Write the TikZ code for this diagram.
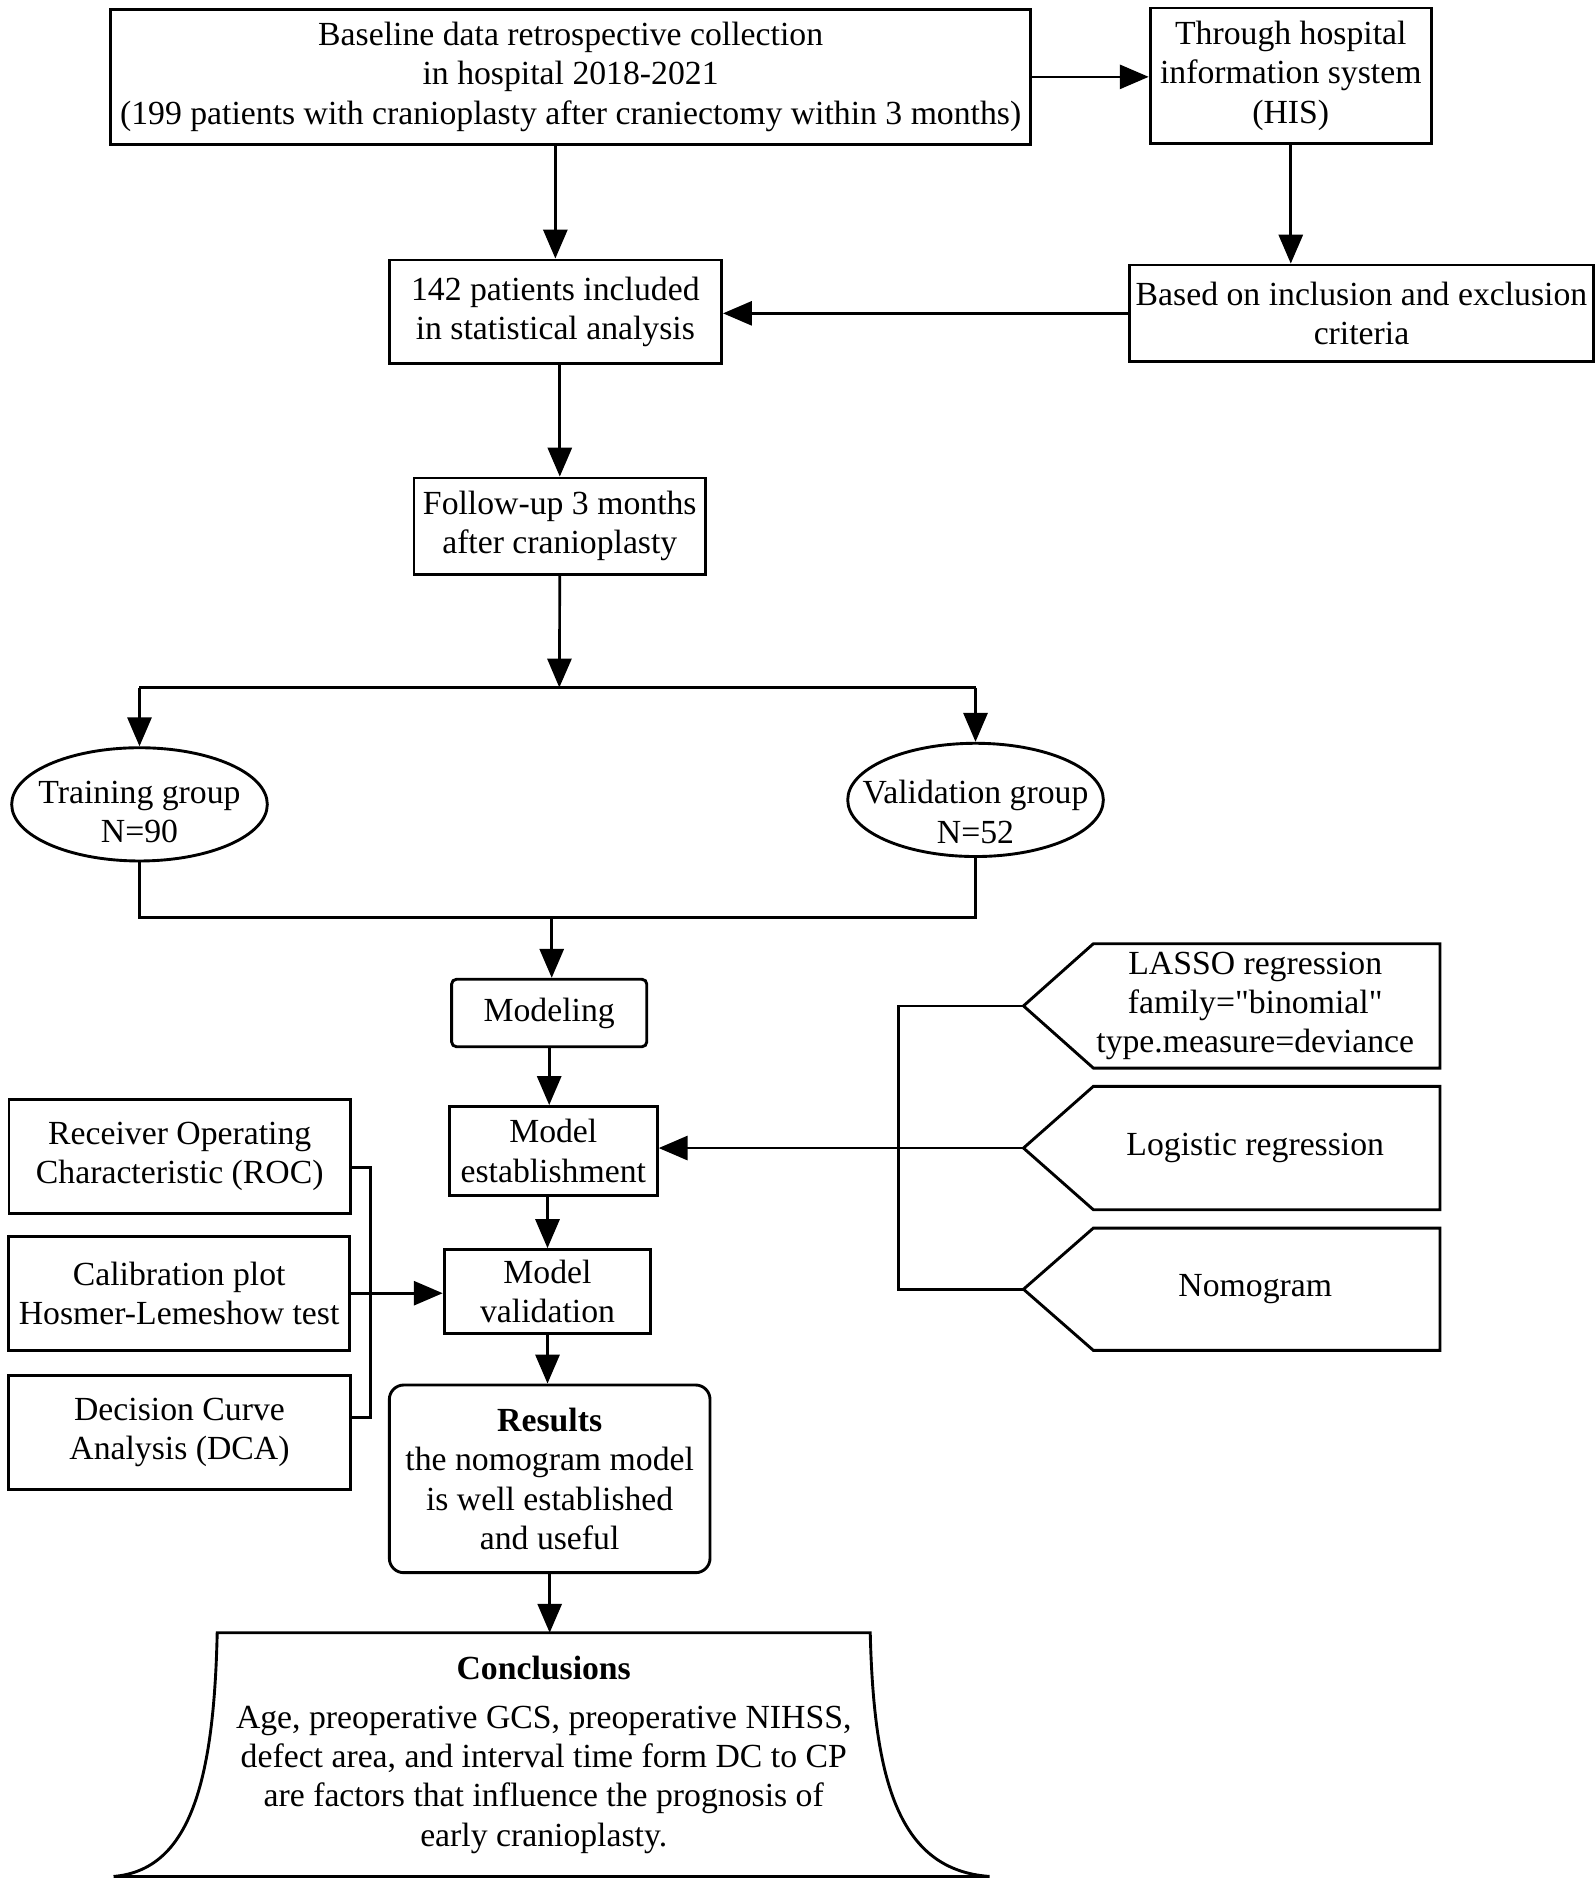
\documentclass[tikz,border=0pt]{standalone}
\usepackage{fontspec}
\setmainfont{Liberation Serif}[Ligatures=TeXOff]
\usetikzlibrary{shapes.geometric,arrows.meta,calc}
\begin{document}
\begin{tikzpicture}[x=0.5pt,y=-0.5pt,
  every node/.style={font=\fontsize{14}{16.3}\selectfont},
  box/.style={draw, line width=1.2pt, inner sep=0pt, align=center},
  txt/.style={inner sep=0pt, align=center},
  conn/.style={line width=1.1pt},
  arr/.style={line width=1.1pt, -{Triangle[length=12pt,width=10pt]}},
  ell/.style={draw, ellipse, line width=1.2pt, inner sep=0pt},
  bline/.style={line width=1.2pt, line join=miter},
]
\fill[white] (0,0) rectangle (1324,1565.6);
\useasboundingbox (0,0) rectangle (1324,1565.6);

% top row
\node[box, minimum width=381.95pt, minimum height=56pt] (A) at (473.7,63.8)
  {Baseline data retrospective collection\\in hospital 2018-2021\\(199 patients with cranioplasty after craniectomy within 3 months)};
\node[box, minimum width=116.75pt, minimum height=56.2pt] (HIS) at (1071.5,62.8)
  {Through hospital\\information system\\(HIS)};
\node[box, minimum width=138pt, minimum height=42.9pt] (B) at (461,258.7)
  {142 patients included\\in statistical analysis};
\node[box, minimum width=192.25pt, minimum height=40.1pt] (C) at (1130.2,260.1)
  {Based on inclusion and exclusion\\criteria};
\node[box, minimum width=121pt, minimum height=40pt] (D) at (464.7,436.8)
  {Follow-up 3 months\\after cranioplasty};

% groups
\node[ell, minimum width=106.1pt, minimum height=47pt] (E) at (115.8,667.7) {};
\node[txt] (Et) at (115.8,674) {Training group\\N=90};
\node[ell, minimum width=106.1pt, minimum height=47pt] (F) at (809.8,664) {};
\node[txt] (Ft) at (809.8,674) {Validation group\\N=52};

% model column
\node[box, rounded corners=2pt, minimum width=81pt, minimum height=28pt] (G) at (455.9,840.9) {Modeling};
\node[box, minimum width=86.3pt, minimum height=37pt] (H) at (459.3,955.5) {Model\\establishment};
\node[box, minimum width=85.8pt, minimum height=34.9pt] (I) at (454.5,1072.2) {Model\\validation};
\node[box, rounded corners=6pt, minimum width=133.1pt, minimum height=77.9pt] (J) at (456.3,1227.6)
  {\textbf{Results}\\the nomogram model\\is well established\\and useful};
\node[txt, minimum width=270.65pt, minimum height=100.75pt] (K) at (451.35,1456.5)
  {\textbf{Conclusions}\\[4pt]Age, preoperative GCS, preoperative NIHSS,\\defect area, and interval time form DC to CP\\are factors that influence the prognosis of\\early cranioplasty.};
\draw[bline] (K.north west) -- (K.north east)
  .. controls ($(K.north east)+(3,124)$) and ($(K.south east)+(24,-5.3)$) .. ($(K.south east)+(99,0)$)
  -- ($(K.south west)+(-86,0)$)
  .. controls ($(K.south west)+(-22.7,-5.3)$) and ($(K.north west)+(-2.7,124)$) .. cycle;

% left evaluation boxes
\node[box, minimum width=141.75pt, minimum height=47.4pt] (L1) at (149.2,960) {Receiver Operating\\Characteristic (ROC)};
\node[box, minimum width=141.75pt, minimum height=47.4pt] (L2) at (148.7,1073.5) {Calibration plot\\Hosmer-Lemeshow test};
\node[box, minimum width=141.75pt, minimum height=47.4pt] (L3) at (149,1189) {Decision Curve\\Analysis (DCA)};

% right method pentagons
\node[txt, minimum width=153pt, minimum height=51.2pt] (P1) at (1042,835) {LASSO regression\\family="binomial"\\type.measure=deviance};
\node[txt, minimum width=153pt, minimum height=50.8pt] (P2) at (1042,953) {Logistic regression};
\node[txt, minimum width=153pt, minimum height=50.35pt] (P3) at (1042,1070.2) {Nomogram};
\foreach \p in {P1,P2,P3}{
  \draw[bline] ($(\p.north west)+(19,0)$) -- (\p.north east) -- (\p.south east)
    -- ($(\p.south west)+(19,0)$) -- ($(\p.west)+(-39,0)$) -- cycle;
}
\coordinate (P1t) at ($(P1.west)+(-39,0)$);
\coordinate (P2t) at ($(P2.west)+(-39,0)$);
\coordinate (P3t) at ($(P3.west)+(-39,0)$);

% connectors
\draw[arr] (A.east) -- (A.east -| HIS.west);
\draw[arr] (B.north |- A.south) -- (B.north);
\draw[arr] (HIS.south) -- (HIS.south |- C.north);
\draw[arr] (C.west) -- (C.west -| B.east);
\draw[arr] (D.north |- B.south) -- (D.north);
\coordinate (S) at (464.3,570.7);
\draw[arr] (D.south) -- (S);
\draw[conn] (S -| E.north) -- (S -| F.north);
\draw[arr] (S -| E.north) -- (E.north);
\draw[arr] (S -| F.north) -- (F.north);
\coordinate (M) at (458,761.5);
\draw[conn] (E.south) -- (E.south |- M) -- (F.south |- M) -- (F.south);
\draw[arr] (M) -- (M |- G.north);
\draw[arr] (G.south) -- (G.south |- H.north);
\draw[arr] (P2t) -- (P2t -| H.east);
\coordinate (R) at (746,0);
\draw[conn] (P1t) -- (P1t -| R) -- (P3t -| R) -- (P3t);
\draw[arr] (I.north |- H.south) -- (I.north);
\draw[arr] (I.south) -- (I.south |- J.north);
\draw[arr] (J.south) -- (J.south |- K.north);
\coordinate (Q) at (307.6,0);
\draw[conn] ([yshift=-4.45pt]L1.east) -- ([yshift=-4.45pt]L1.east -| Q)
  -- ([yshift=6.15pt]L3.east -| Q) -- ([yshift=6.15pt]L3.east);
\draw[arr] (L2.east) -- (L2.east -| I.west);
\end{tikzpicture}
\end{document}
